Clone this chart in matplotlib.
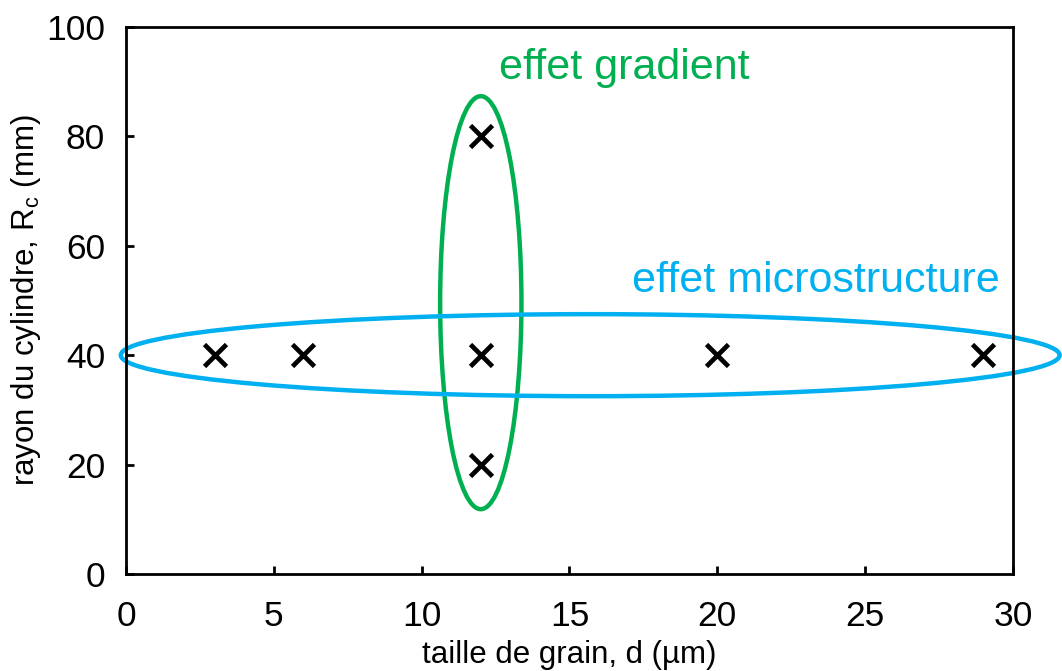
import matplotlib
matplotlib.use('Agg')
import matplotlib.pyplot as plt
from matplotlib.patches import Ellipse

# data
grain_size = [3, 6, 12, 20, 29, 12, 12]
radius = [40, 40, 40, 40, 40, 80, 20]

plt.rcParams['font.family'] = ['Liberation Sans', 'DejaVu Sans']

fig = plt.figure(figsize=(10.62, 6.71), dpi=100)
ax = fig.add_axes([0.1186, 0.1446, 0.8353, 0.8152])

ax.scatter(grain_size, radius, marker='x', s=250, color='black', linewidths=3.4, zorder=3)

green = '#00B050'
blue = '#00B0F0'
ax.add_patch(Ellipse((12.0, 49.6), 2.75, 75.5, fill=False, edgecolor=green,
                     linewidth=3.2, clip_on=False, zorder=2))
ax.add_patch(Ellipse((15.7, 40.0), 31.75, 15.0, fill=False, edgecolor=blue,
                     linewidth=3.2, clip_on=False, zorder=2))

ax.text(12.6, 92.5, 'effet gradient', color=green, fontsize=31, va='center', ha='left')
ax.text(17.1, 53.5, 'effet microstructure', color=blue, fontsize=31, va='center', ha='left')

ax.set_xlim(0, 30)
ax.set_ylim(0, 100)
ax.set_xticks(range(0, 31, 5))
ax.set_yticks(range(0, 101, 20))
ax.tick_params(direction='in', length=6, width=2, labelsize=25.5, top=False, right=False)
ax.tick_params(axis='x', pad=19)
ax.tick_params(axis='y', pad=15)
for s in ax.spines.values():
    s.set_linewidth(2)

ax.set_xlabel('taille de grain, d (µm)', fontsize=22.5)
ax.set_ylabel('rayon du cylindre, R$_\\mathregular{c}$ (mm)', fontsize=22.5)
ax.xaxis.set_label_coords(0.5, -0.12)
ax.yaxis.set_label_coords(-0.094, 0.5)

fig.savefig('out.png', dpi=100)
